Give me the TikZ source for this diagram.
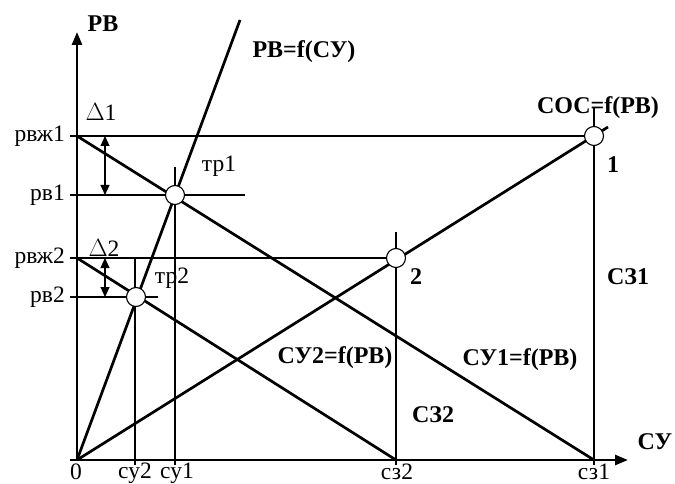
\documentclass[tikz,border=0pt]{standalone}
\usepackage{fontspec}
\setmainfont{Liberation Serif}
\usetikzlibrary{arrows.meta}
\tikzset{
  thickln/.style={line width=2.7pt},
  thinln/.style={line width=1.1pt},
  pt/.style={circle,draw,fill=white,line width=1.1pt,minimum size=19pt,inner sep=0pt},
  lab/.style={font=\fontsize{23.5}{23.5}\selectfont,inner sep=0pt},
  blab/.style={font=\fontsize{24}{24}\selectfont\bfseries,inner sep=0pt},
  dar/.style={thinln,{Triangle[length=10pt,width=9pt]}-{Triangle[length=10pt,width=9pt]}},
  axar/.style={thickln,-{Triangle[length=13pt,width=10pt]}}
}
\begin{document}
\begin{tikzpicture}[x=1pt,y=-1pt]
\useasboundingbox (0,0) rectangle (675,484);
% key coordinates
\coordinate (O) at (77,460);
\coordinate (Ytop) at (77,32);
\coordinate (Xend) at (628,460);
\coordinate (A1) at (77,136);
\coordinate (A2) at (77,258);
\coordinate (L1) at (70,136);
\coordinate (L1b) at (70,195);
\coordinate (R1b) at (245,195);
\coordinate (L2) at (70,258);
\coordinate (L2b) at (70,297);
\coordinate (R2b) at (158,297);
\coordinate (S1b) at (594,465);
\coordinate (S1t) at (594,108);
\coordinate (S1a) at (594,460);
\coordinate (S2b) at (396,465);
\coordinate (S2t) at (396,232);
\coordinate (S2a) at (396,460);
\coordinate (C1b) at (175,465);
\coordinate (C1t) at (175,167);
\coordinate (C2b) at (135,465);
\coordinate (C2t) at (135,258);
\coordinate (Ftop) at (240,20);
\coordinate (Cend) at (608,127);
\coordinate (D1a) at (105,136);
\coordinate (D1b) at (105,195);
\coordinate (D2a) at (105,258);
\coordinate (D2b) at (105,297);

% thin lines
\draw[thinln] (L1) -- (594,136);
\draw[thinln] (L1b) -- (R1b);
\draw[thinln] (L2) -- (396,258);
\draw[thinln] (L2b) -- (R2b);
\draw[thinln] (C1b) -- (C1t);
\draw[thinln] (C2b) -- (C2t);
\draw[dar] (D1a) -- (D1b);
\draw[dar] (D2a) -- (D2b);

% thick lines
\draw[thickln] (S1b) -- (S1t);
\draw[thickln] (S2b) -- (S2t);
\draw[thickln] (A1) -- (S1a);
\draw[thickln] (A2) -- (S2a);
\draw[thickln] (O) -- (Cend);
\draw[thickln] (O) -- (Ftop);
\draw[axar] (O) -- (Ytop);
\draw[axar] (70,460) -- (Xend);

% points
\node[pt] (p1) at (594,136) {};
\node[pt] (p2) at (396,258) {};
\node[pt] (t1) at (175,195) {};
\node[pt] (t2) at (136,297) {};

% labels
\node[blab] (lPB) at (103,24) {РВ};
\node[blab] (lF) at (304,52) {РВ=f(СУ)};
\node[blab] (lCOC) at (598,108) {СОС=f(РВ)};
\node[blab] (l1) at (613,165) {1};
\node[blab] (l2) at (416,277) {2};
\node[blab] (lS1) at (628,277) {СЗ1};
\node[blab] (lS2) at (433,415) {СЗ2};
\node[blab] (lCY2) at (335,358) {СУ2=f(РВ)};
\node[blab] (lCY1) at (520,360) {СУ1=f(РВ)};
\node[blab] (lCY) at (655,442) {СУ};
\node[lab] (ld1) at (101,112) {$\Delta$1};
\node[lab] (ld2) at (104,248) {$\Delta$2};
\node[lab] (ltr1) at (219,166) {тр1};
\node[lab] (ltr2) at (172,278) {тр2};
\node[lab,anchor=east] (lr1) at (65,136) {рвж1};
\node[lab,anchor=east] (lr2) at (65,195) {рв1};
\node[lab,anchor=east] (lr3) at (65,258) {рвж2};
\node[lab,anchor=east] (lr4) at (65,297) {рв2};
\node[lab,anchor=base] (b0) at (76,479) {0};
\node[lab,anchor=base] (b1) at (135,478) {су2};
\node[lab,anchor=base] (b2) at (177,478) {су1};
\node[lab,anchor=base] (b3) at (397,479) {сз2};
\node[lab,anchor=base] (b4) at (594,479) {сз1};
\end{tikzpicture}
\end{document}
